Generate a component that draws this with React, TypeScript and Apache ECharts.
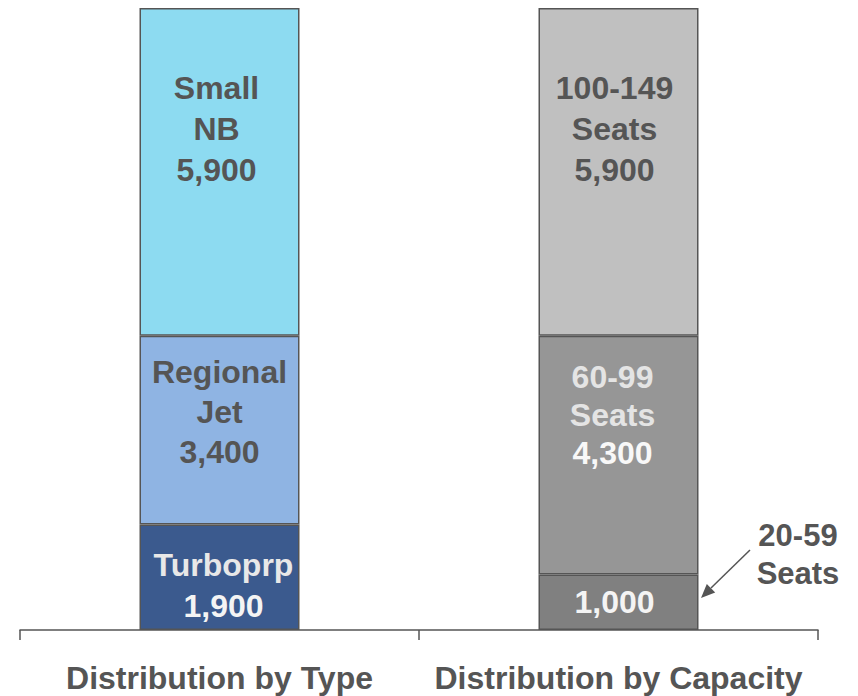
import React, { useEffect, useRef } from "react";
import * as echarts from "echarts";

const categories = ["Distribution by Type", "Distribution by Capacity"];
const bottomValues = [1900, 1000];
const middleValues = [3400, 4300];
const topValues = [5900, 5900];
const bottomNames = ["Turboprp", ""];
const middleNames = ["Regional\nJet", "60-99\nSeats"];
const topNames = ["Small\nNB", "100-149\nSeats"];
const annotationText = "20-59\nSeats";

const bottomColors = ["#3b5a8e", "#808080"];
const middleColors = ["#8fb4e3", "#969696"];
const topColors = ["#8ddbf1", "#c0c0c0"];

const FONT = "'Liberation Sans', Arial, Helvetica, sans-serif";
const fmt = (v: number) => v.toLocaleString("en-US");

type LabelCfg = { nameColor: string; valueColor: string; position: string; distance: number; offsetX: number; lineHeight: number };

function makeData(values: number[], names: string[], colors: string[], cfgs: LabelCfg[]) {
  return values.map((v, i) => {
    const c = cfgs[i];
    const nameLines = names[i] ? names[i].split("\n").map((l) => `{n|${l}}`).join("\n") + "\n" : "";
    return {
      value: v,
      itemStyle: { color: colors[i] },
      label: {
        show: true,
        position: c.position,
        distance: c.distance,
        offset: [c.offsetX, 0],
        formatter: nameLines + `{v|${fmt(v)}}`,
        rich: {
          n: { fontFamily: FONT, fontSize: 32, fontWeight: "bold", color: c.nameColor, lineHeight: c.lineHeight },
          v: { fontFamily: FONT, fontSize: 32, fontWeight: "bold", color: c.valueColor, lineHeight: c.lineHeight },
        },
      },
    };
  });
}

export default function App() {
  const ref = useRef<HTMLDivElement>(null);
  useEffect(() => {
    document.body.style.margin = "0";
    if (!ref.current) return;
    const chart = echarts.init(ref.current, undefined, { renderer: "svg" });
    const barBase = {
      type: "bar",
      stack: "total",
      barWidth: 160,
      itemStyle: { borderColor: "#555555", borderWidth: 1.5 },
    };
    chart.setOption({
      animation: false,
      backgroundColor: "#ffffff",
      grid: { left: 20, right: 40, top: 8, bottom: 66, containLabel: false },
      xAxis: {
        type: "category",
        data: categories,
        axisLine: { show: true, lineStyle: { color: "#555555", width: 1.5 } },
        axisTick: { show: true, length: 10, lineStyle: { color: "#555555", width: 1.5 } },
        axisLabel: {
          interval: 0,
          hideOverlap: false,
          fontFamily: FONT,
          fontSize: 32,
          fontWeight: "bold",
          color: "#555555",
          margin: 32,
        },
      },
      yAxis: { type: "value", min: 0, max: 11200, show: false, splitLine: { show: false } },
      series: [
        {
          ...barBase,
          name: "bottom",
          data: makeData(bottomValues, bottomNames, bottomColors, [
            { nameColor: "#e8e8e8", valueColor: "#f4f4f4", position: "insideTop", distance: 20, offsetX: 4, lineHeight: 41 },
            { nameColor: "#f4f4f4", valueColor: "#f4f4f4", position: "inside", distance: 0, offsetX: -4, lineHeight: 41 },
          ]),
        },
        {
          ...barBase,
          name: "middle",
          data: makeData(middleValues, middleNames, middleColors, [
            { nameColor: "#555555", valueColor: "#555555", position: "insideTop", distance: 16, offsetX: 0, lineHeight: 40 },
            { nameColor: "#e4e4e4", valueColor: "#f8f8f8", position: "insideTop", distance: 22, offsetX: -6, lineHeight: 38 },
          ]),
        },
        {
          ...barBase,
          name: "top",
          data: makeData(topValues, topNames, topColors, [
            { nameColor: "#555555", valueColor: "#555555", position: "insideTop", distance: 59, offsetX: -3, lineHeight: 41 },
            { nameColor: "#555555", valueColor: "#555555", position: "insideTop", distance: 59, offsetX: -4, lineHeight: 41 },
          ]),
        },
      ],
      graphic: [
        {
          type: "text",
          x: 798,
          y: 554,
          style: {
            text: annotationText,
            fontFamily: FONT,
            fontSize: 31,
            fontWeight: "bold",
            fill: "#555555",
            align: "center",
            verticalAlign: "middle",
            lineHeight: 38,
          },
        },
        {
          type: "line",
          shape: { x1: 750, y1: 550, x2: 711, y2: 588 },
          style: { stroke: "#555555", lineWidth: 1.5 },
        },
        {
          type: "polygon",
          shape: { points: [[701, 598], [715.2, 592.5], [706.8, 583.9]] },
          style: { fill: "#555555" },
        },
      ],
    });
    return () => chart.dispose();
  }, []);
  return <div ref={ref} style={{ width: 858, height: 696 }} />;
}
